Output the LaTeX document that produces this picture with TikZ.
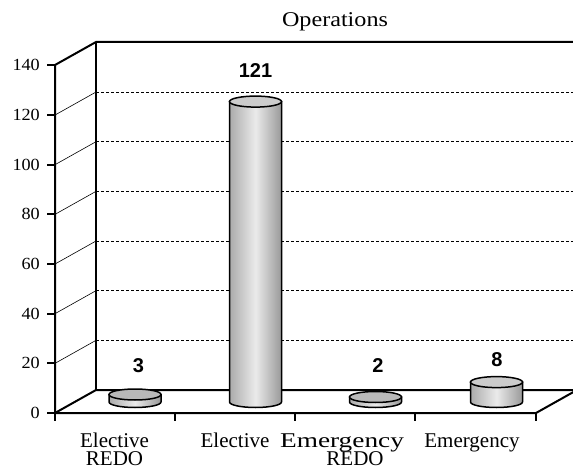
\documentclass[tikz,border=0pt]{standalone}
\usepackage{fontspec}
\setmainfont{Liberation Serif}
\newfontfamily\valfont{Liberation Sans}
\begin{document}
\begin{tikzpicture}[x=1pt,y=1pt,
  axisline/.style={line width=2pt},
  gridline/.style={line width=0.8pt,dash pattern=on 3pt off 2pt},
  gridslant/.style={line width=0.6pt},
  ticklab/.style={anchor=east,inner sep=0pt,font=\fontsize{17}{20}\selectfont},
  catlab/.style={anchor=base,inner sep=0pt,font=\fontsize{21}{24}\selectfont},
  vallab/.style={inner sep=0pt,font=\valfont\bfseries\fontsize{20}{24}\selectfont},
  cylside/.style={left color=black!33,right color=black!40,middle color=black!8,draw=black,line width=1.5pt},
  cyltop/.style={fill=black!20,draw=black,line width=1.5pt},
  disctop/.style={fill=black!28,draw=black,line width=1.5pt}]
\useasboundingbox (0,0) rectangle (573,469);
\clip (0,0) rectangle (573,469);
% back wall grid
\foreach \v in {20,40,...,120}{
  \draw[gridline] (96,{79+\v*2.483}) -- (573,{79+\v*2.483});
  \draw[gridslant] (55,{56+\v*2.483}) -- (96,{79+\v*2.483});
}
% frame
\draw[axisline] (55,56) -- (55,404) -- (96,427) -- (577,427);
\draw[axisline] (96,79) -- (96,427);
\draw[axisline] (55,56) -- (96,79) -- (577,79);
\draw[axisline] (55,56) -- (536,56) -- (577,79);
% y ticks and labels
\foreach \v/\nm in {0/ya,20/yb,40/yc,60/yd,80/ye,100/yf,120/yg,140/yh}{
  \draw[axisline] (47,{56+\v*2.483}) -- (55,{56+\v*2.483});
  \node[ticklab] (\nm) at (40,{56+\v*2.483}) {\scalebox{1.07}[1]{\v}};
}
% x ticks
\foreach \x in {55,175,295,415,536}{
  \draw[axisline] (\x,56) -- (\x,48);
}
% cylinders: center x, top y
\newcommand{\cylbar}[3]{%
  \path[cylside] (#1-26,#2) -- (#1-26,67) arc[start angle=180,end angle=360,x radius=26pt,y radius=5.5pt] -- (#1+26,#2) -- cycle;
  \path[#3] (#1,#2) ellipse[x radius=26pt,y radius=5.5pt];
}
\cylbar{135}{74.5}{disctop}
\cylbar{255.5}{367.4}{cyltop}
\cylbar{375.5}{72}{disctop}
\cylbar{496.5}{86.9}{cyltop}
% value labels
\node[vallab] (v1) at (138.5,103.5) {3};
\node[vallab] (v2) at (255.5,398.5) {121};
\node[vallab] (v3) at (378,103.5) {2};
\node[vallab] (v4) at (497,109.5) {8};
% category labels
\node[catlab] (c1a) at (114.5,22) {Elective};
\node[catlab] (c1b) at (114.5,4) {REDO};
\node[catlab] (c2) at (235,22) {Elective};
\node[catlab] (c3a) at (342,22) {\scalebox{1.3}[1]{Emergency}};
\node[catlab] (c3b) at (355,4) {REDO};
\node[catlab] (c4) at (472,22) {Emergency};
% title
\node[catlab] (title) at (335,442) {\scalebox{1.15}[1]{Operations}};
\end{tikzpicture}
\end{document}
